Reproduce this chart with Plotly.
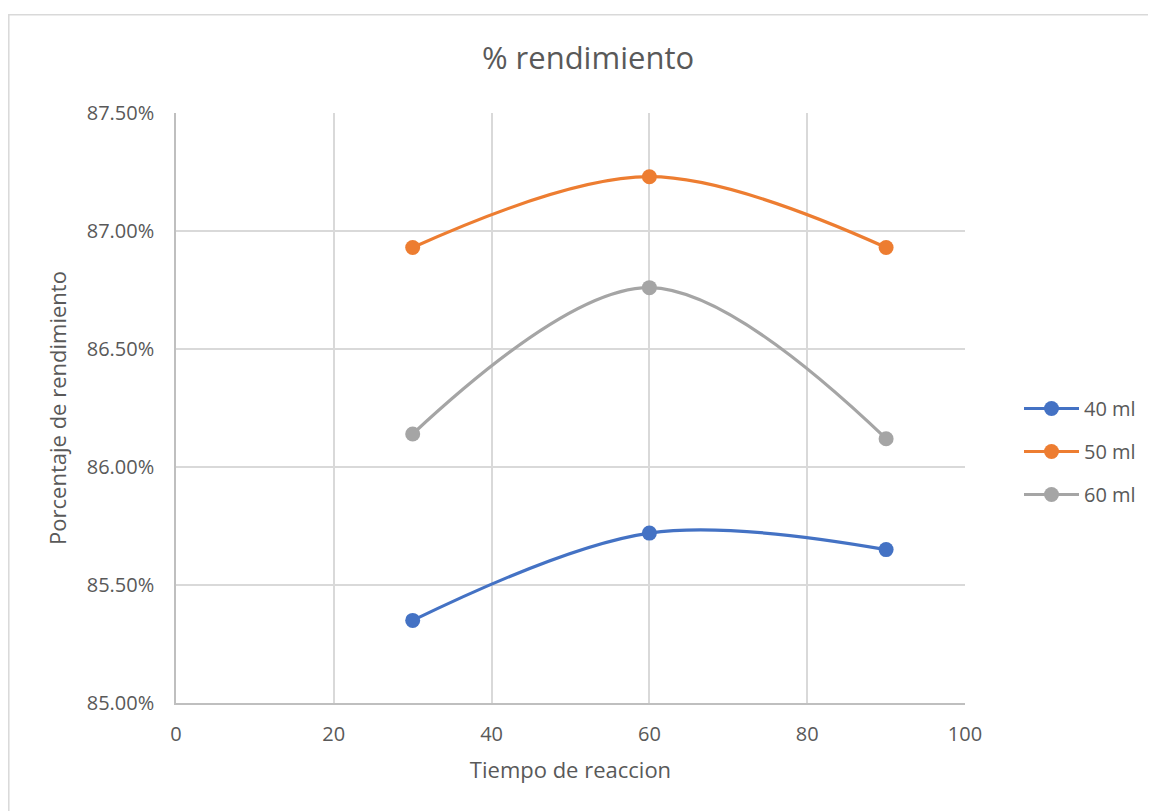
import plotly.graph_objects as go

tiempo = [30, 60, 90]
series_names = ["40 ml", "50 ml", "60 ml"]
rend_40 = [0.8535, 0.8572, 0.8565]
rend_50 = [0.8693, 0.8723, 0.8693]
rend_60 = [0.8614, 0.8676, 0.8612]
colors = ["#4472C4", "#ED7D31", "#A5A5A5"]

W, H = 1156, 811
OFF = 8  # page body margin
L, R, T, B = 176 - OFF, 965 - OFF, 113 - OFF, 703 - OFF
font_family = "Open Sans, Noto Sans, sans-serif"
txt = "#595959"

fig = go.Figure()
for name, vals, c in zip(series_names, [rend_40, rend_50, rend_60], colors):
    fig.add_trace(go.Scatter(
        x=tiempo, y=vals, name=name, mode="lines+markers", legendgroup=name,
        line=dict(color=c, width=3.2, shape="spline", smoothing=1.0),
        marker=dict(color=c, size=15),
    ))

def px_x(px):
    return (px - OFF - L) / (R - L)

def px_y(py):
    return (B - (py - OFF)) / (B - T)

fig.add_shape(type="rect", xref="paper", yref="paper",
              x0=px_x(8.8), x1=px_x(1180), y0=px_y(840), y1=px_y(14.8),
              line=dict(color="#D9D9D9", width=1.5), layer="below")

fig.update_layout(
    width=W, height=H,
    margin=dict(l=L, r=W - R, t=T, b=H - B),
    paper_bgcolor="white", plot_bgcolor="white",
    font=dict(family=font_family, color=txt, size=19),
    title=dict(text="% rendimiento", x=(588 - OFF) / W, xanchor="center",
               y=1 - (58 - OFF) / H, yanchor="middle",
               font=dict(size=31, color=txt)),
    legend=dict(x=px_x(1019), xanchor="left", y=px_y(389), yanchor="top",
                font=dict(size=20, color=txt), itemwidth=55,
                tracegroupgap=14, bgcolor="rgba(0,0,0,0)"),
    showlegend=True,
)
fig.update_xaxes(
    range=[0, 100], dtick=20, tick0=0,
    showgrid=True, gridcolor="#D9D9D9", gridwidth=1.5,
    showline=True, linecolor="#BFBFBF", linewidth=1.5, mirror=False,
    zeroline=False, ticks="", ticklabelstandoff=12,
    tickfont=dict(size=20, color=txt),
    title=dict(text="Tiempo de reaccion", font=dict(size=22, color=txt), standoff=17),
)
fig.update_yaxes(
    range=[0.85, 0.875], dtick=0.005, tick0=0.85, tickformat=".2%",
    showgrid=True, gridcolor="#D9D9D9", gridwidth=1.5,
    showline=True, linecolor="#BFBFBF", linewidth=1.5,
    zeroline=False, ticks="", ticklabelstandoff=16,
    tickfont=dict(size=20, color=txt),
    title=dict(text="Porcentaje de rendimiento", font=dict(size=22, color=txt), standoff=14),
)
fig.write_html("out.html")
